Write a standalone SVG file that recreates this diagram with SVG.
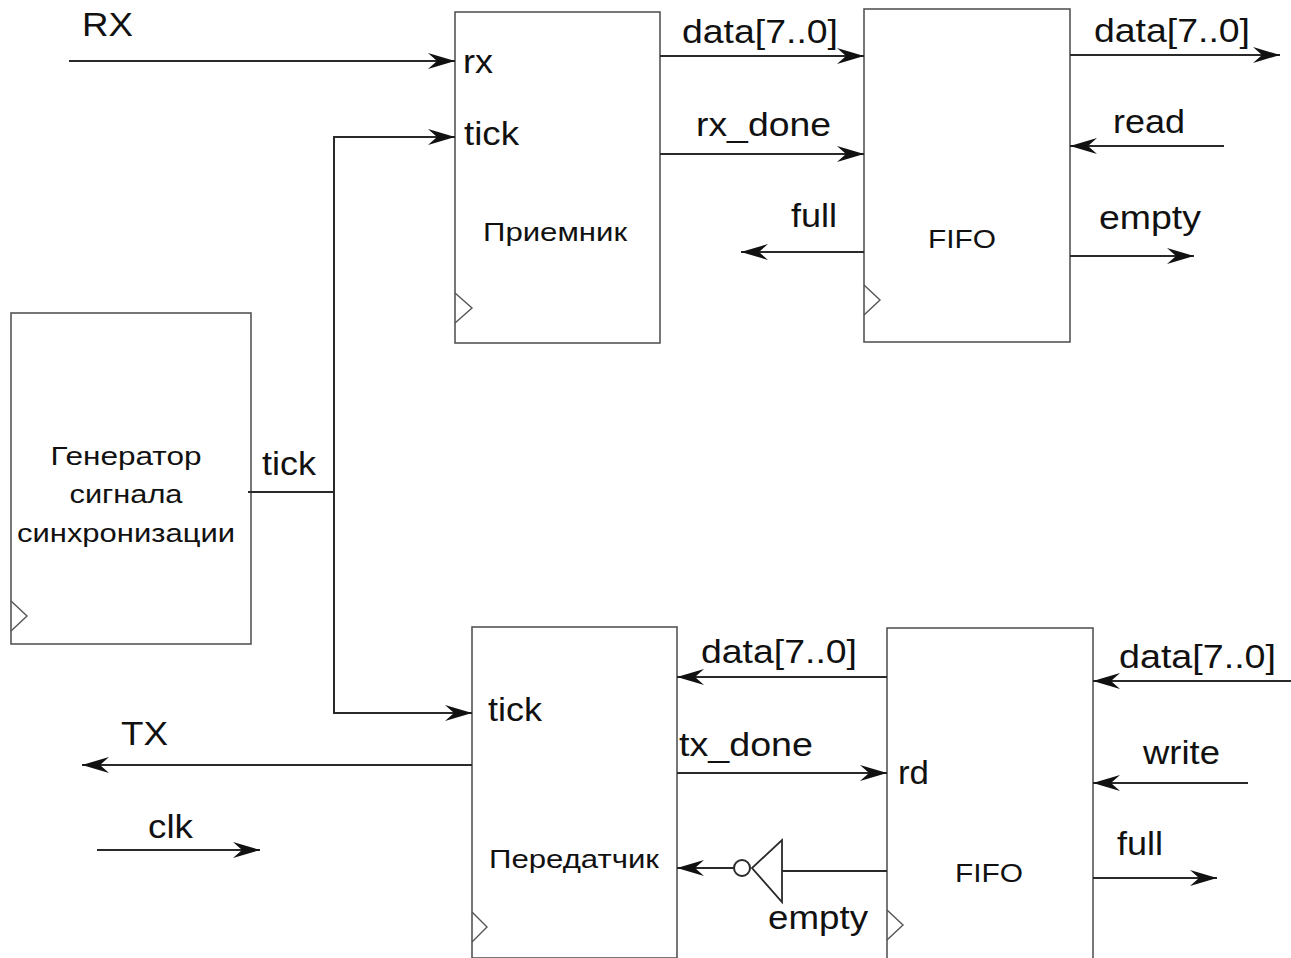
<svg xmlns="http://www.w3.org/2000/svg" width="1291" height="958" viewBox="0 0 1291 958">
<defs>
<style>
.box{fill:#fff;stroke:#555;stroke-width:1.6}
.clk{fill:none;stroke:#555;stroke-width:1.4}
.w{fill:none;stroke:#2a2a2a;stroke-width:2}
.a{marker-end:url(#ah)}
.t{font-family:"Liberation Sans",Arial,sans-serif;font-size:33px;fill:#111}
.s{font-family:"Liberation Sans",Arial,sans-serif;font-size:26px;fill:#111;text-anchor:middle}
</style>
<marker id="ah" markerUnits="userSpaceOnUse" viewBox="-28 -9 29 18" refX="0" refY="0" markerWidth="29" markerHeight="18" orient="auto">
<path d="M0,0 L-27,-8 L-18,0 L-27,8 Z" fill="#111"/>
</marker>
</defs>
<rect width="1291" height="958" fill="#fff"/>

<g id="receiver">
<rect class="box" x="455" y="12" width="205" height="331"/>
<path class="clk" d="M455,293 L472,308 L455,323"/>
<text class="t" x="463" y="73" textLength="30" lengthAdjust="spacingAndGlyphs">rx</text>
<text class="t" x="464" y="145" textLength="55" lengthAdjust="spacingAndGlyphs">tick</text>
<text class="s" x="555" y="241" textLength="144" lengthAdjust="spacingAndGlyphs">Приемник</text>
</g>

<g id="fifo-rx">
<rect class="box" x="864" y="9" width="206" height="333"/>
<path class="clk" d="M864,285 L880,300 L864,315"/>
<text class="s" x="962" y="248" textLength="68" lengthAdjust="spacingAndGlyphs">FIFO</text>
</g>

<g id="generator">
<rect class="box" x="11" y="313" width="240" height="331"/>
<path class="clk" d="M11,601 L27,616 L11,631"/>
<text class="s" x="126" y="465" textLength="151" lengthAdjust="spacingAndGlyphs">Генератор</text>
<text class="s" x="126" y="503" textLength="113" lengthAdjust="spacingAndGlyphs">сигнала</text>
<text class="s" x="126" y="542" textLength="218" lengthAdjust="spacingAndGlyphs">синхронизации</text>
</g>

<g id="transmitter">
<rect class="box" x="472" y="627" width="205" height="331"/>
<path class="clk" d="M472,912 L487,927 L472,942"/>
<text class="t" x="488" y="721" textLength="54" lengthAdjust="spacingAndGlyphs">tick</text>
<text class="s" x="574" y="868" textLength="170" lengthAdjust="spacingAndGlyphs">Передатчик</text>
</g>

<g id="fifo-tx">
<rect class="box" x="887" y="628" width="206" height="331"/>
<path class="clk" d="M887,910 L903,925 L887,940"/>
<text class="t" x="898" y="784" textLength="31" lengthAdjust="spacingAndGlyphs">rd</text>
<text class="s" x="989" y="882" textLength="68" lengthAdjust="spacingAndGlyphs">FIFO</text>
</g>

<g id="inverter">
<path d="M782,840 L782,902 L752,868 Z" fill="#fff" stroke="#2a2a2a" stroke-width="1.8"/>
<circle cx="742" cy="868" r="8" fill="#fff" stroke="#2a2a2a" stroke-width="2"/>
</g>

<g id="connectors">
<path class="w a" d="M69,61 H455"/>
<path class="w a" d="M248,492 H334 V137 H455"/>
<path class="w a" d="M334,492 V713 H472"/>
<path class="w a" d="M660,56 H864"/>
<path class="w a" d="M660,154 H864"/>
<path class="w a" d="M864,252 H741"/>
<path class="w a" d="M1070,55 H1280"/>
<path class="w a" d="M1224,146 H1070"/>
<path class="w a" d="M1070,256 H1194"/>
<path class="w a" d="M472,765 H82"/>
<path class="w a" d="M97,850 H260"/>
<path class="w a" d="M887,677 H677"/>
<path class="w a" d="M677,773 H887"/>
<path class="w" d="M887,871 H782"/>
<path class="w a" d="M734,868 H677"/>
<path class="w a" d="M1291,681 H1093"/>
<path class="w a" d="M1248,783 H1093"/>
<path class="w a" d="M1093,878 H1217"/>
</g>

<g id="labels">
<text class="t" x="82" y="36" textLength="51" lengthAdjust="spacingAndGlyphs">RX</text>
<text class="t" x="682" y="43" textLength="156" lengthAdjust="spacingAndGlyphs">data[7..0]</text>
<text class="t" x="696" y="136" textLength="135" lengthAdjust="spacingAndGlyphs">rx_done</text>
<text class="t" x="791" y="227" textLength="46" lengthAdjust="spacingAndGlyphs">full</text>
<text class="t" x="1094" y="42" textLength="156" lengthAdjust="spacingAndGlyphs">data[7..0]</text>
<text class="t" x="1113" y="133" textLength="72" lengthAdjust="spacingAndGlyphs">read</text>
<text class="t" x="1099" y="229" textLength="102" lengthAdjust="spacingAndGlyphs">empty</text>
<text class="t" x="262" y="475" textLength="54" lengthAdjust="spacingAndGlyphs">tick</text>
<text class="t" x="121" y="745" textLength="47" lengthAdjust="spacingAndGlyphs">TX</text>
<text class="t" x="148" y="838" textLength="45" lengthAdjust="spacingAndGlyphs">clk</text>
<text class="t" x="701" y="663" textLength="156" lengthAdjust="spacingAndGlyphs">data[7..0]</text>
<text class="t" x="679" y="756" textLength="134" lengthAdjust="spacingAndGlyphs">tx_done</text>
<text class="t" x="768" y="929" textLength="100" lengthAdjust="spacingAndGlyphs">empty</text>
<text class="t" x="1119" y="668" textLength="157" lengthAdjust="spacingAndGlyphs">data[7..0]</text>
<text class="t" x="1143" y="764" textLength="77" lengthAdjust="spacingAndGlyphs">write</text>
<text class="t" x="1117" y="855" textLength="46" lengthAdjust="spacingAndGlyphs">full</text>
</g>
</svg>
